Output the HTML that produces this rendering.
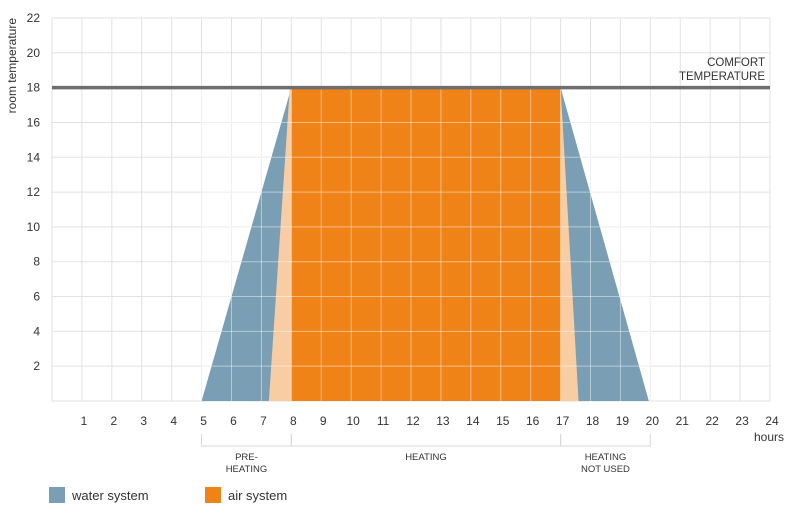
<!DOCTYPE html>
<html><head><meta charset="utf-8"><style>
body{margin:0;background:#fff;font-family:"Liberation Sans",sans-serif}
svg text{font-family:"Liberation Sans",sans-serif;fill:#333}
</style></head><body>
<svg width="800" height="522">
<g id="grid"></g>
<g id="fills"></g>
<g id="grid2"></g>
<g id="axes"></g>
<text x="16" y="18" transform="rotate(-90 16 18)" text-anchor="end" font-size="12">room temperature</text>
<text x="784" y="441" text-anchor="end" font-size="12">hours</text>
<text x="765" y="66" text-anchor="end" font-size="11.5">COMFORT</text>
<text x="765" y="80" text-anchor="end" font-size="11.5">TEMPERATURE</text>
<g id="phases"></g>
<rect x="49" y="487" width="16" height="16" fill="#7a9fb5"/>
<text x="72" y="500" font-size="13">water system</text>
<rect x="205" y="487" width="16" height="16" fill="#ef8318"/>
<text x="228" y="500" font-size="13">air system</text>
</svg>
<script>
const hours=[1,2,3,4,5,6,7,8,9,10,11,12,13,14,15,16,17,18,19,20,21,22,23,24];
const temps=[2,4,6,8,10,12,14,16,18,20,22];
const comfort=18;
const waterX=[5,8,17,19.95];
const waterY=[0,18,18,0];
const peachX=[7.25,7.95,17,17.6];
const peachY=[0,18,18,0];
const airX=[8,17];
const airY=[0,18];
const phaseNames=[["PRE-","HEATING"],["HEATING"],["HEATING","NOT USED"]];
const phaseBounds=[5,8,17,20];
const X=h=>52+h*29.917, Y=t=>401-t*17.41;
const NS="http://www.w3.org/2000/svg";
function mk(p,tag,a){const e=document.createElementNS(NS,tag);for(const k in a)e.setAttribute(k,a[k]);document.getElementById(p).appendChild(e);return e;}
for(let h=0;h<=24;h++){const e=mk('grid','line',{x1:X(h),x2:X(h),y1:Y(22),y2:Y(0),stroke:'#e2e2e2'});

}
for(let t=0;t<=22;t+=2){const e=mk('grid','line',{x1:X(0),x2:X(24),y1:Y(t),y2:Y(t),stroke:'#e2e2e2'});

}
const poly=(xs,ys)=>xs.map((x,i)=>X(x)+','+Y(ys[i])).join(' ');
let e=mk('fills','polygon',{points:poly(waterX,waterY),fill:'#7a9fb5'});


e=mk('fills','polygon',{points:poly(peachX,peachY),fill:'#f8cda3'});


e=mk('fills','rect',{x:X(airX[0]),y:Y(airY[1]),width:X(airX[1])-X(airX[0]),height:Y(airY[0])-Y(airY[1]),fill:'#ef8318'});


for(let h=5;h<=20;h++){const l=mk('grid2','line',{x1:X(h),x2:X(h),y1:Y(18),y2:Y(0),stroke:'#fff','stroke-opacity':0.45});

}
for(let t=2;t<18;t+=2){const l=mk('grid2','line',{x1:X(5),x2:X(20),y1:Y(t),y2:Y(t),stroke:'#fff','stroke-opacity':0.45});

}
e=mk('axes','line',{x1:X(0),x2:X(24),y1:Y(comfort),y2:Y(comfort),stroke:'#6e6e6e','stroke-width':3.5});


hours.forEach(h=>{const t=mk('axes','text',{x:X(h)+2,y:425,'text-anchor':'middle','font-size':12});t.textContent=h;

});
temps.forEach(v=>{const t=mk('axes','text',{x:40,y:Y(v)+4,'text-anchor':'end','font-size':12});t.textContent=v;

});
for(let i=0;i<3;i++){const a=X(phaseBounds[i]),b=X(phaseBounds[i+1]);
const br=mk('phases','path',{d:`M${a},434V446H${b}V434`,fill:'none',stroke:'#d8d8d8'});


phaseNames[i].forEach((s,j)=>{const t=mk('phases','text',{x:(a+b)/2,y:460+j*12,'text-anchor':'middle','font-size':9.5});t.textContent=s;

});}
</script>
</body></html>
